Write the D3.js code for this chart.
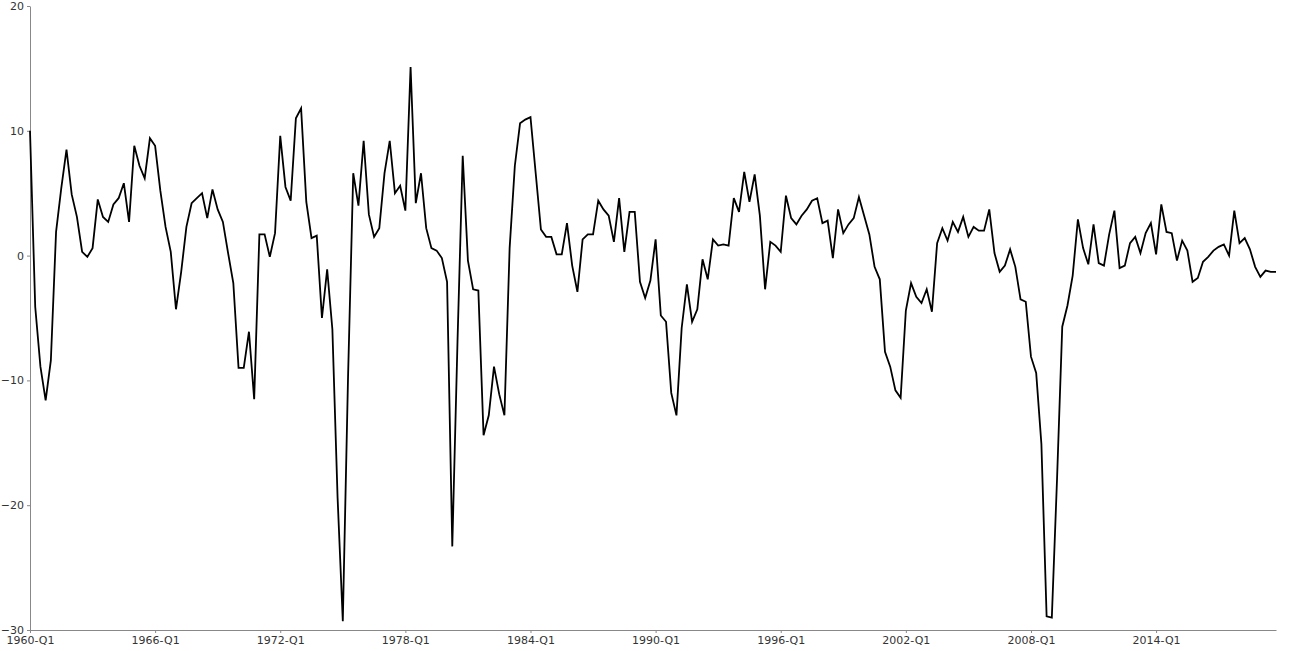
<!DOCTYPE html>
<html>
<head>
<meta charset="utf-8">
<script src="https://cdnjs.cloudflare.com/ajax/libs/d3/7.8.5/d3.min.js"></script>
<style>
  body { margin: 0; background: #fff; }
  .axis text { font-family: "DejaVu Sans", Verdana, sans-serif; font-size: 11px; fill: #333; }
  .axis path, .axis line { stroke: #888; }
</style>
</head>
<body>
<div id="chart"></div>
<script>
// quarters 1960-Q1 .. 2019-Q4
var years = d3.range(1960, 2020);
var quarters = [];
years.forEach(function(y) {
  [1, 2, 3, 4].forEach(function(q) { quarters.push(y + "-Q" + q); });
});

var values = [
  10, -4.1, -8.9, -11.6, -8.4, 1.9, 5.4, 8.5, 4.9, 3.1,
  0.3, -0.1, 0.6, 4.5, 3.1, 2.7, 4.1, 4.6, 5.8, 2.7,
  8.8, 7.2, 6.2, 9.4, 8.8, 5.2, 2.3, 0.3, -4.3, -1.3,
  2.3, 4.2, 4.6, 5.0, 3.0, 5.3, 3.7, 2.7, 0.2, -2.2,
  -9.0, -9.0, -6.1, -11.5, 1.7, 1.7, -0.1, 1.8, 9.6, 5.5,
  4.4, 11.0, 11.8, 4.3, 1.4, 1.6, -5.0, -1.1, -5.9, -19.4,
  -29.3, -9.8, 6.6, 4.0, 9.2, 3.3, 1.5, 2.2, 6.6, 9.2,
  5.0, 5.6, 3.6, 15.1, 4.2, 6.6, 2.2, 0.6, 0.4, -0.2,
  -2.1, -23.3, -6.9, 8.0, -0.4, -2.7, -2.8, -14.4, -12.8, -8.9,
  -11.1, -12.8, 0.6, 7.2, 10.6, 10.9, 11.1, 6.6, 2.1, 1.5,
  1.5, 0.1, 0.1, 2.6, -0.8, -2.9, 1.3, 1.7, 1.7, 4.4,
  3.7, 3.2, 1.1, 4.6, 0.3, 3.5, 3.5, -2.1, -3.4, -2.0,
  1.3, -4.8, -5.3, -11.0, -12.8, -5.8, -2.3, -5.3, -4.3, -0.3,
  -1.9, 1.3, 0.8, 0.9, 0.8, 4.6, 3.5, 6.7, 4.3, 6.5,
  3.2, -2.7, 1.1, 0.8, 0.3, 4.8, 3.0, 2.5, 3.2, 3.7,
  4.4, 4.6, 2.6, 2.8, -0.2, 3.7, 1.8, 2.5, 3.0, 4.7,
  3.2, 1.7, -0.9, -1.9, -7.7, -8.9, -10.8, -11.4, -4.4, -2.2,
  -3.3, -3.8, -2.7, -4.5, 1.0, 2.2, 1.2, 2.7, 1.9, 3.1,
  1.5, 2.3, 2.0, 2.0, 3.7, 0.2, -1.3, -0.8, 0.5, -0.9,
  -3.5, -3.7, -8.1, -9.4, -15.1, -28.9, -29.0, -17.9, -5.7, -4.0,
  -1.6, 2.9, 0.6, -0.7, 2.5, -0.6, -0.8, 1.7, 3.6, -1.0,
  -0.8, 1.0, 1.5, 0.2, 1.8, 2.6, 0.1, 4.1, 1.9, 1.8,
  -0.4, 1.2, 0.4, -2.1, -1.8, -0.5, -0.1, 0.4, 0.7, 0.9,
  0.0, 3.6, 1.0, 1.4, 0.5, -0.9, -1.7, -1.2, -1.3, -1.3
];

var tickLabels = ["1960-Q1", "1966-Q1", "1972-Q1", "1978-Q1", "1984-Q1",
  "1990-Q1", "1996-Q1", "2002-Q1", "2008-Q1", "2014-Q1"];
var yTicks = [-30, -20, -10, 0, 10, 20];

var margin = {top: 6, right: 17, bottom: 21, left: 30},
  width = 1293 - margin.left - margin.right,
  height = 651 - margin.top - margin.bottom;

var svg = d3.select("#chart").append("svg")
  .attr("width", 1293)
  .attr("height", 651)
  .append("g")
  .attr("transform", "translate(" + margin.left + "," + margin.top + ")");

var x = d3.scalePoint().domain(quarters).range([0, width]);
var y = d3.scaleLinear().domain([-30, 20]).range([height, 0]);

svg.append("g")
  .attr("class", "axis")
  .attr("transform", "translate(0," + height + ")")
  .call(d3.axisBottom(x).tickValues(tickLabels).tickSize(3).tickSizeOuter(0));

svg.append("g")
  .attr("class", "axis")
  .call(d3.axisLeft(y).tickValues(yTicks).tickSize(3).tickSizeOuter(0));

var line = d3.line()
  .x(function(d, i) { return x(quarters[i]); })
  .y(function(d) { return y(d); });

svg.append("path")
  .datum(values)
  .attr("fill", "none")
  .attr("stroke", "#000")
  .attr("stroke-width", 1.8)
  .attr("stroke-linejoin", "miter")
  .attr("d", line);
</script>
</body>
</html>
